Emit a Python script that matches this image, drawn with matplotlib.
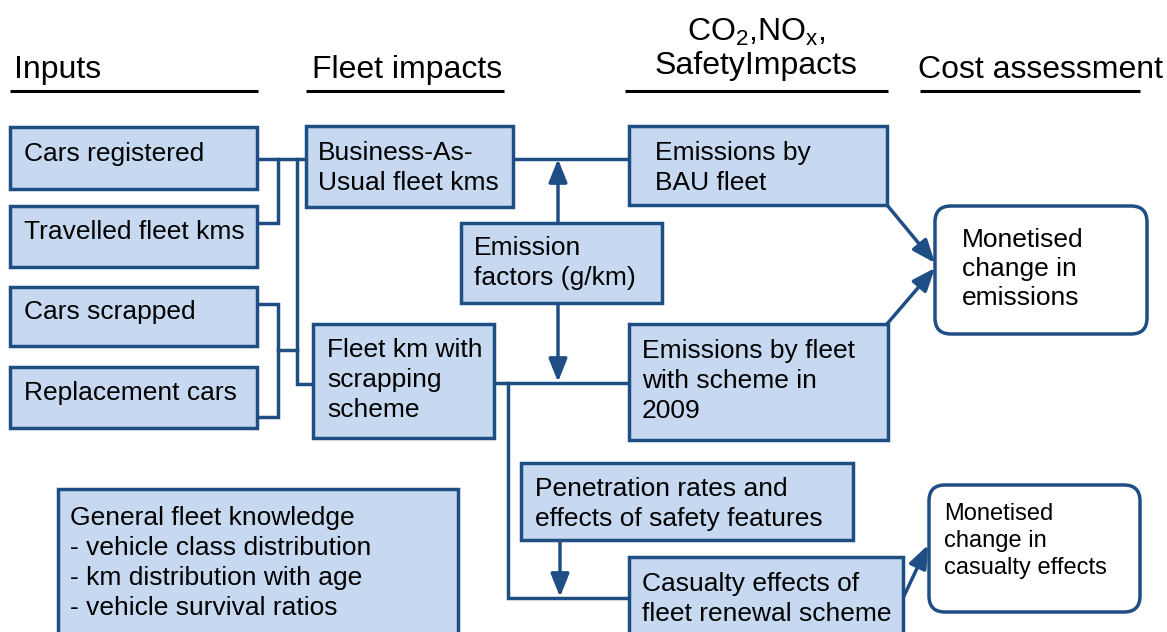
import matplotlib
matplotlib.use("Agg")
import matplotlib.pyplot as plt
from matplotlib.patches import Rectangle, FancyBboxPatch

plt.rcParams['font.family'] = ['Liberation Sans', 'DejaVu Sans']
plt.rcParams['mathtext.default'] = 'regular'

EDGE = "#1f4e85"
FILL = "#c6d9f1"

# column headers: text, x, y, underline from, underline to
headers = ["Inputs", "Fleet impacts", "CO$_2$,NO$_x$,\nSafetyImpacts", "Cost assessment"]
header_x = [14, 312, 756, 918]
header_y = [70, 70, 49, 70]
header_ha = ["left", "left", "center", "left"]
rule_x0 = [10, 306, 625, 920]
rule_x1 = [258, 504, 888, 1140]

# square boxes: label, (x0, y0, x1, y1), text x, text centre y
box_labels = [
    "Cars registered",
    "Travelled fleet kms",
    "Cars scrapped",
    "Replacement cars",
    "Business-As-\nUsual fleet kms",
    "Fleet km with\nscrapping\nscheme",
    "Emission\nfactors (g/km)",
    "Emissions by\nBAU fleet",
    "Emissions by fleet\nwith scheme in\n2009",
    "Penetration rates and\neffects of safety features",
    "Casualty effects of\nfleet renewal scheme",
    "General fleet knowledge\n- vehicle class distribution\n- km distribution with age\n- vehicle survival ratios",
]
box_rect = [
    (10, 127, 257, 189),
    (10, 206, 257, 267),
    (10, 287, 257, 346),
    (10, 367, 257, 428),
    (306, 126, 513, 207),
    (313, 324, 494, 438),
    (461, 223, 662, 303),
    (629, 126, 887, 205),
    (629, 324, 888, 440),
    (521, 463, 853, 540),
    (629, 557, 903, 660),
    (58, 489, 458, 660),
]
box_tx = [24, 24, 24, 24, 318, 327, 474, 655, 642, 535, 642, 70]
box_ty = [154, 232, 312, 393, 168, 380, 263, 168, 381, 504, 599, 563]

# rounded outcome boxes
out_labels = ["Monetised\nchange in\nemissions", "Monetised\nchange in\ncasualty effects"]
out_rect = [(935, 206, 1147, 334), (929, 485, 1140, 612)]
out_tx = [962, 944]
out_ty = [269, 541]
out_size = [19, 17]

# connector polylines
links = [
    [(257, 159), (306, 159)],
    [(257, 223), (278, 223), (278, 159)],
    [(297, 159), (297, 384), (313, 384)],
    [(257, 304), (278, 304), (278, 417), (257, 417)],
    [(278, 350), (297, 350)],
    [(513, 159), (629, 159)],
    [(494, 383), (629, 383)],
    [(508, 383), (508, 598), (629, 598)],
]

# arrows: start, end
arrows = [
    ((558, 223), (558, 159)),
    ((558, 304), (558, 382)),
    ((560, 540), (560, 597)),
    ((887, 205), (935, 263)),
    ((887, 324), (935, 268)),
    ((904, 596), (928, 545)),
]

fig = plt.figure(figsize=(11.67, 6.32), dpi=100)
ax = fig.add_axes([0, 0, 1, 1])
ax.set_xlim(0, 1167)
ax.set_ylim(632, 0)
ax.set_axis_off()

for t, x, y, ha in zip(headers, header_x, header_y, header_ha):
    ax.text(x, y, t, fontsize=23, ha=ha, va="center", linespacing=1.1)
for a, b in zip(rule_x0, rule_x1):
    ax.plot([a, b], [91, 91], color="black", lw=2.2, solid_capstyle="butt")

for pts in links:
    xs, ys = zip(*pts)
    ax.plot(xs, ys, color=EDGE, lw=2.5, solid_joinstyle="miter", zorder=1)

for (s, e) in arrows:
    ax.annotate("", xy=e, xytext=s,
                arrowprops=dict(arrowstyle="-|>,head_length=0.5,head_width=0.2",
                                color=EDGE, lw=2.5,
                                mutation_scale=28, shrinkA=0, shrinkB=0),
                zorder=1)

for lab, (x0, y0, x1, y1), tx, ty in zip(box_labels, box_rect, box_tx, box_ty):
    ax.add_patch(Rectangle((x0, y0), x1 - x0, y1 - y0, facecolor=FILL,
                           edgecolor=EDGE, lw=2.5, zorder=2))
    ax.text(tx, ty, lab, fontsize=19, ha="left", va="center",
            linespacing=1.3, zorder=3)

for lab, (x0, y0, x1, y1), tx, ty, fs in zip(out_labels, out_rect, out_tx, out_ty, out_size):
    ax.add_patch(FancyBboxPatch((x0, y0), x1 - x0, y1 - y0,
                                boxstyle="round,pad=0,rounding_size=16",
                                facecolor="white", edgecolor=EDGE, lw=2.5,
                                zorder=2))
    ax.text(tx, ty, lab, fontsize=fs, ha="left", va="center",
            linespacing=1.27, zorder=3)

fig.savefig("out.png", dpi=100)
